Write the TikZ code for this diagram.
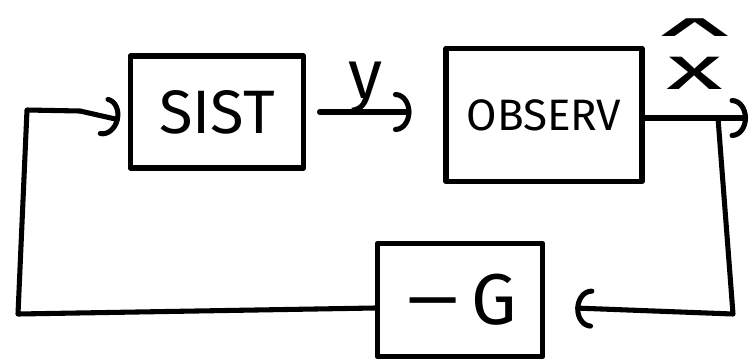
\documentclass[tikz,border=0pt]{standalone}
\usepackage{fontspec}
\usepackage{graphicx}
\setmainfont{Fira Sans}
\newfontfamily\symfont{DejaVu Sans}
\usetikzlibrary{arrows.meta,calc}
\begin{document}
\begin{tikzpicture}[x=0.75pt,y=-0.75pt,
  pen/.style={line width=3.8pt, line cap=round, line join=round},
  block/.style={pen, draw, rectangle, inner sep=0pt},
  flow/.style={pen, -{Arc Barb[length=12pt,width=30pt,round]}},
  big/.style={font=\fontsize{46}{46}\selectfont},
]
\useasboundingbox (0,0) rectangle (752,361);

% blocks
\node[block, big, minimum width=130pt, minimum height=84pt] (sist) at (217,112) {SIST};
\node[block, font=\fontsize{33}{33}\selectfont, minimum width=147pt, minimum height=100pt] (obs) at (544,115) {OBSERV};
\node[block, font=\fontsize{54}{54}\selectfont, minimum width=124pt, minimum height=85pt] (gain) at (460,300)
  {\scalebox{1.7}[1]{−}\hspace{6pt}G\hspace{26pt}};

% signal labels
\node[font=\fontsize{52}{52}\selectfont, anchor=base] (ylab) at (366,98) {y};
\node[font=\fontsize{46}{40}\selectfont, align=center, inner sep=0pt, anchor=south] (xlab) at (695,90)
  {{\symfont\scalebox{2.3}[0.5]{∧}}\\\scalebox{1.9}[1]{x}};

% connection points
\coordinate (out) at (748,118);
\coordinate (tap) at (718,118);
\coordinate (rc) at (733,314);
\coordinate (lb) at (18,314);
\coordinate (lt) at (27,110);
\coordinate (bend) at (80,111);

% forward path
\draw[flow, shorten <=10pt, shorten >=24pt] (sist.east) -- (sist.east -| obs.west);
\draw[flow] (obs.east |- out) -- (out);

% feedback through the gain
\draw[flow] (tap) -- (rc) -- ($(gain.east)+(30,8)$);
\draw[flow] ($(gain.west)+(0,8)$) -- (lb) -- (lt) -- (bend) -- ($(sist.west)+(-8,8)$);
\end{tikzpicture}
\end{document}
